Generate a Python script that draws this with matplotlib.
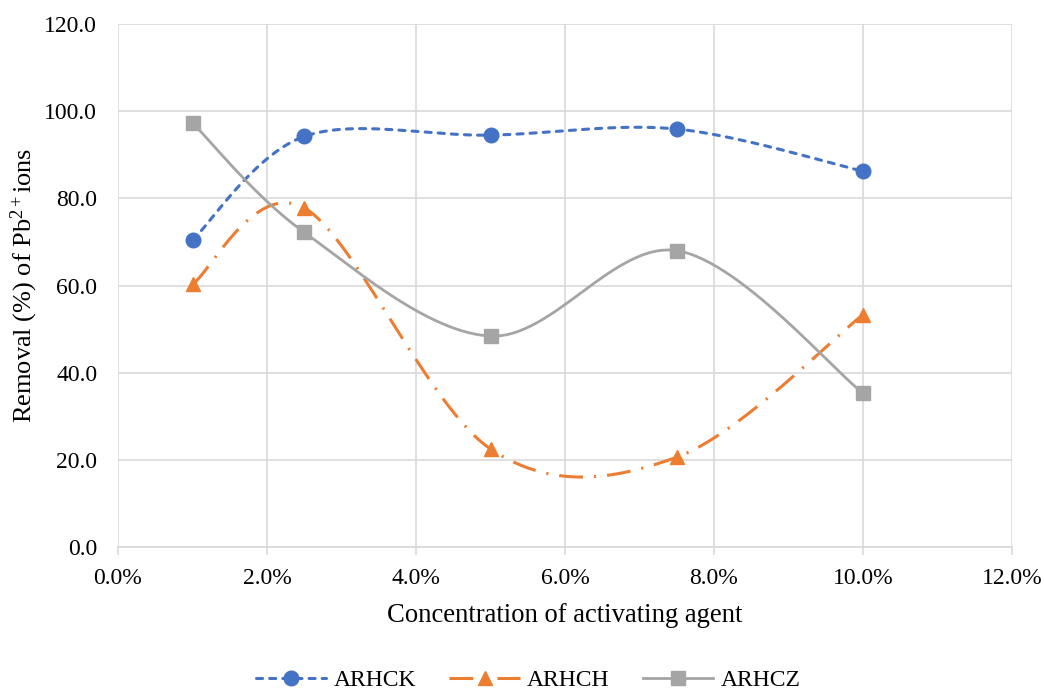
import numpy as np
import matplotlib
matplotlib.use("Agg")
import matplotlib.pyplot as plt
from matplotlib.lines import Line2D

plt.rcParams['font.family'] = ['Liberation Serif', 'DejaVu Serif']
plt.rcParams['mathtext.fontset'] = 'custom'
plt.rcParams['mathtext.rm'] = 'Liberation Serif'
plt.rcParams['mathtext.it'] = 'Liberation Serif:italic'

# Concentration of activating agent (%)
concentration = [1.0, 2.5, 5.0, 7.5, 10.0]
arhck = [70.4, 94.2, 94.5, 95.9, 86.2]
arhch = [60.3, 77.8, 22.5, 20.6, 53.3]
arhcz = [97.3, 72.2, 48.4, 68.0, 35.3]

series_names = ["ARHCK", "ARHCH", "ARHCZ"]
x_ticks = [0, 2, 4, 6, 8, 10, 12]
y_ticks = [0, 20, 40, 60, 80, 100, 120]


def smooth_curve(x, y, n=60):
    """Catmull-Rom style cubic Bezier through the points (spreadsheet smoothing)."""
    p = np.column_stack([x, y]).astype(float)
    ext = np.vstack([p[0], p, p[-1]])
    out = []
    t = np.linspace(0, 1, n)[:, None]
    for i in range(len(p) - 1):
        p0, p1, p2, p3 = ext[i], ext[i + 1], ext[i + 2], ext[i + 3]
        c1 = p1 + (p2 - p0) / 6.0
        c2 = p2 - (p3 - p1) / 6.0
        seg = ((1 - t) ** 3) * p1 + 3 * ((1 - t) ** 2) * t * c1 + 3 * (1 - t) * t ** 2 * c2 + t ** 3 * p2
        out.append(seg if i == 0 else seg[1:])
    out = np.vstack(out)
    return out[:, 0], out[:, 1]


fig = plt.figure(figsize=(10.44, 6.9), dpi=100)
ax = fig.add_axes([118 / 1044, 1 - 547 / 690, (1012 - 118) / 1044, (547 - 24) / 690])

styles = [
    dict(color="#4472C4", ls=(0, (2.0, 2.3)), lw=2.2, marker="o", ms=10.5, cap="round"),
    dict(color="#ED7D31", ls=(0, (7.8, 3.6, 0.7, 3.6)), lw=2.2, marker="^", ms=10.5, cap="butt"),
    dict(color="#A5A5A5", ls="-", lw=2.0, marker="s", ms=9.5, cap="butt"),
]

handles = []
for name, vals, st in zip(series_names, [arhck, arhch, arhcz], styles):
    sx, sy = smooth_curve(concentration, vals)
    ax.plot(sx, sy, color=st["color"], linestyle=st["ls"], linewidth=st["lw"], zorder=3,
            solid_capstyle="butt", dash_capstyle=st["cap"])
    ax.plot(concentration, vals, linestyle="none", marker=st["marker"], markersize=st["ms"],
            color=st["color"], markeredgecolor=st["color"], zorder=4)
    handles.append(Line2D([], [], color=st["color"], linestyle=st["ls"], linewidth=st["lw"],
                          dash_capstyle=st["cap"], marker=st["marker"], markersize=st["ms"],
                          markeredgecolor=st["color"], label=name))

ax.set_xlim(0, 12)
ax.set_ylim(0, 120)
ax.set_xticks(x_ticks)
ax.set_xticklabels([f"{v:.1f}%" for v in x_ticks])
ax.set_yticks(y_ticks)
ax.set_yticklabels([f"{v:.1f}" for v in y_ticks])

ax.grid(True, color="#D9D9D9", linewidth=1.2, zorder=0)
ax.set_axisbelow(True)
for side in ["top", "right", "left"]:
    ax.spines[side].set_visible(False)
ax.spines["bottom"].set_color("#D9D9D9")
ax.spines["bottom"].set_linewidth(1.2)

ax.tick_params(axis="x", length=6, width=1.2, color="#D9D9D9", labelsize=17, pad=9)
ax.tick_params(axis="y", length=0, labelsize=17, pad=15)

ax.set_xlabel("Concentration of activating agent", fontsize=19.2, labelpad=10)
ax.set_ylabel(r"Removal (%) of Pb$^{\mathrm{2+}}$ions", fontsize=19, labelpad=3)

fig.legend(handles=handles, loc="center", bbox_to_anchor=(528 / 1044, 1 - 680 / 690), ncol=3,
           frameon=False, fontsize=17, handlelength=3.0, handletextpad=0.3, columnspacing=1.4)

fig.savefig("out.png", dpi=100)
